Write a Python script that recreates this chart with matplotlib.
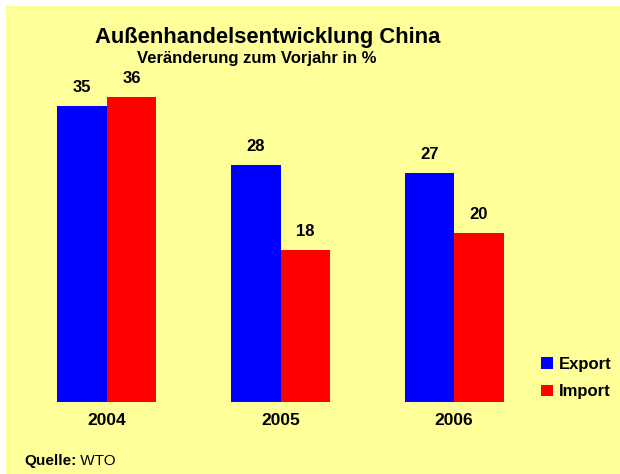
import matplotlib.pyplot as plt
from matplotlib.patches import Rectangle
import numpy as np

# Daten
years = ["2004", "2005", "2006"]
export_vals = [35, 28, 27]
import_vals = [36, 18, 20]

plt.rcParams['font.family'] = ['Liberation Sans', 'DejaVu Sans']

W, H = 620, 474
fig = plt.figure(figsize=(W / 100, H / 100), dpi=100)
fig.patch.set_facecolor('white')

# gelber Hintergrund
fig.patches.append(Rectangle((6 / W, 0), 1 - 6 / W, 1 - 6 / H, transform=fig.transFigure,
                             facecolor='#FFFF99', edgecolor='none', zorder=-10))

# Achse in Pixeln: links 20, rechts 541, unten 402 (von oben), oben 66
ax = fig.add_axes([20 / W, (H - 402) / H, 521 / W, 336 / H])
ax.set_facecolor('none')

x = np.arange(len(years))
bw = 0.285
b1 = ax.bar(x - bw / 2, export_vals, bw, color='#0000FF', label='Export')
b2 = ax.bar(x + bw / 2, import_vals, bw, color='#FF0000', label='Import')

for bars in (b1, b2):
    for b in bars:
        ax.annotate(f"{int(b.get_height())}", (b.get_x() + b.get_width() / 2, b.get_height()),
                    xytext=(0, 8), textcoords='offset points', ha='center', va='bottom',
                    fontsize=12, fontweight='bold')

ax.set_xlim(-0.5, 2.5)
ax.set_ylim(0, 39.7)
ax.set_yticks([])
ax.set_xticks(x)
ax.set_xticklabels(years, fontsize=12.5, fontweight='bold')
ax.tick_params(axis='x', length=0, pad=8)
for s in ax.spines.values():
    s.set_visible(False)

fig.text(268 / W, 1 - 37 / H, "Außenhandelsentwicklung China", ha='center', va='center',
         fontsize=15.8, fontweight='bold')
fig.text(257 / W, 1 - 58 / H, "Veränderung zum Vorjahr in %", ha='center', va='center',
         fontsize=12, fontweight='bold')

ax.legend(handles=[b1, b2], loc='center left', bbox_to_anchor=(541 / W, 1 - 378 / H),
          bbox_transform=fig.transFigure, frameon=False, prop={'weight': 'bold', 'size': 12},
          handlelength=0.7, handleheight=0.7, handletextpad=0.35, labelspacing=0.75,
          borderpad=0, borderaxespad=0)

q = fig.text(24 / W, 1 - 461 / H, "Quelle:", ha='left', va='center', fontsize=11, fontweight='bold')
ax.annotate(" WTO", xy=(1, 0.5), xycoords=q, va='center', ha='left', fontsize=11,
            annotation_clip=False)

fig.savefig("out.png", dpi=100, facecolor=fig.get_facecolor())
